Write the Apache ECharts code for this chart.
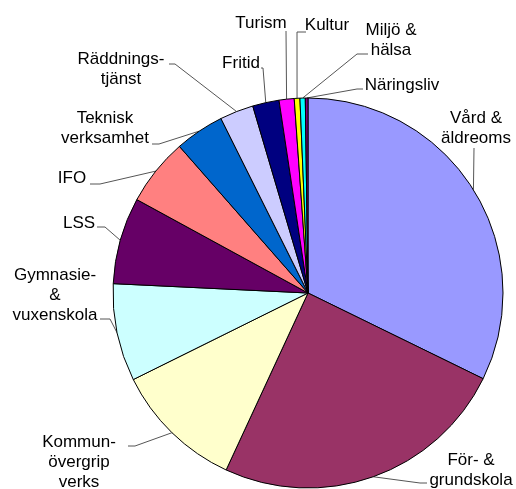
<!DOCTYPE html>
<html>
<head>
<meta charset="utf-8">
<script src="https://cdn.jsdelivr.net/npm/echarts@6/dist/echarts.min.js"></script>
<style>
  html, body { margin: 0; padding: 0; background: #fff; }
  #chart { width: 516px; height: 489px; }
</style>
</head>
<body>
<div id="chart"></div>
<script>
// slices, clockwise from 12 o'clock
var categories = ['Vård &\näldreoms', 'För- &\ngrundskola', 'Kommun-\növergrip\nverks',
  'Gymnasie-\n&\nvuxenskola', 'LSS', 'IFO', 'Teknisk\nverksamhet', 'Räddnings-\ntjänst',
  'Fritid', 'Turism', 'Kultur', 'Miljö &\nhälsa', 'Näringsliv'];
var values = [32.3, 24.7, 10.8, 8.1, 7.2, 5.6, 4.1, 2.8, 2.2, 1.25, 0.47, 0.44, 0.22];
var colors = ['#9999FF', '#993366', '#FFFFCC', '#CCFFFF', '#660066', '#FF8080', '#0066CC',
  '#CCCCFF', '#000080', '#FF00FF', '#FFFF00', '#00FFFF', '#800080'];

// label text position [x, y] and leader line bend/end [bx, by, ex, ey]
var labelPos = [
  [476, 128, 474, 148, 474, 148],
  [471, 470, 420, 483, 427, 483],
  [79, 462, 135, 446, 128, 446],
  [55, 295, 110, 319, 100, 319],
  [79, 223, 105, 227, 97, 227],
  [72, 178, 100, 184, 90, 184],
  [105, 128, 159, 144, 152, 144],
  [121, 69, 175, 64, 169, 64],
  [241, 63, 263, 68, 261, 68],
  [261, 23, 286, 31, 286, 31],
  [327, 25, 297, 32, 306, 32],
  [391, 40, 357, 54, 368, 54],
  [402, 85, 357, 89, 363, 89]
];

var chart = echarts.init(document.getElementById('chart'));

var data = categories.map(function (name, i) {
  return { name: name, value: values[i], itemStyle: { color: colors[i] } };
});

chart.setOption({
  animation: false,
  series: [{
    type: 'pie',
    center: [308, 293],
    radius: 195,
    startAngle: 90,
    clockwise: true,
    avoidLabelOverlap: false,
    data: data,
    itemStyle: { borderColor: '#000', borderWidth: 1 },
    emphasis: { disabled: true },
    label: {
      show: true,
      position: 'outside',
      formatter: '{b}',
      color: '#000',
      fontFamily: 'Liberation Sans, Arial, sans-serif',
      fontSize: 17,
      lineHeight: 20
    },
    labelLine: {
      show: true,
      lineStyle: { color: '#555', width: 1 }
    },
    labelLayout: function (params) {
      var p = labelPos[params.dataIndex];
      var edge = params.labelLinePoints ? params.labelLinePoints[0] : [p[2], p[3]];
      return {
        x: p[0],
        y: p[1],
        align: 'center',
        verticalAlign: 'middle',
        labelLinePoints: [edge, [p[2], p[3]], [p[4], p[5]]]
      };
    }
  }]
});
</script>
</body>
</html>
